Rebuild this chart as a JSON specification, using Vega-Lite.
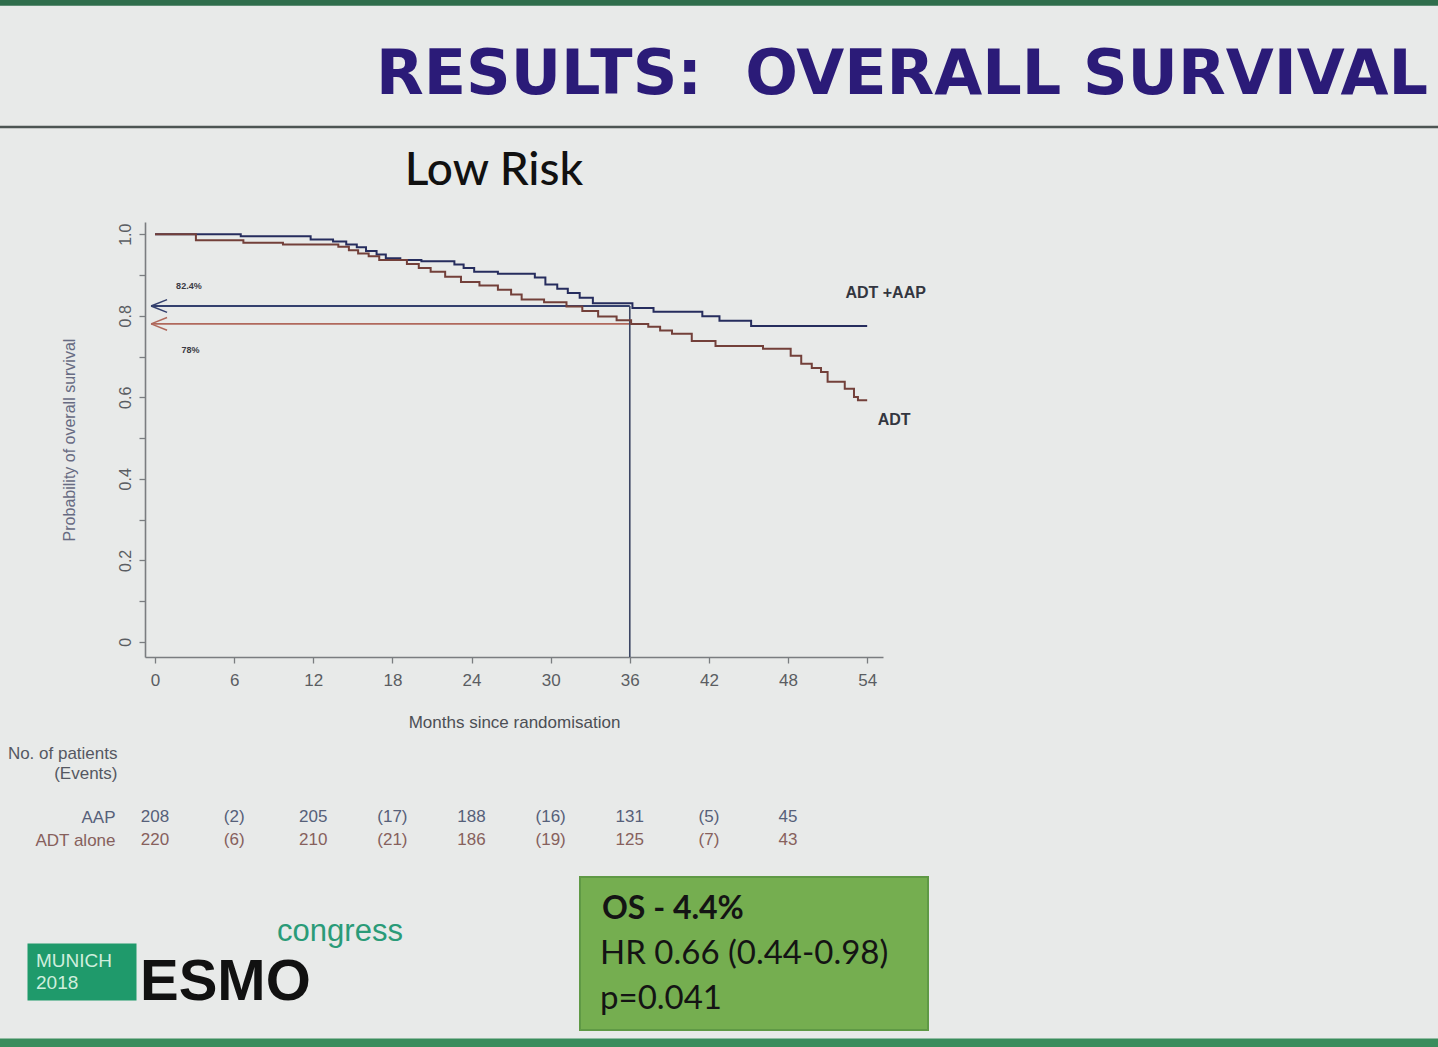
{
  "$schema": "https://vega.github.io/schema/vega-lite/v6.json",
  "width": 1438,
  "height": 1047,
  "autosize": "none",
  "padding": 0,
  "background": "#e8eae9",
  "config": {"view": {"stroke": null}, "font": "Liberation Sans"},
  "title": {
    "text": "RESULTS:\u00a0 OVERALL SURVIVAL",
    "anchor": "start",
    "frame": "group",
    "dx": 376,
    "dy": 158,
    "offset": 0,
    "baseline": "alphabetic",
    "font": "DejaVu Sans",
    "fontSize": 62,
    "fontWeight": "bold",
    "color": "#2b1b78"
  },
  "datasets": {
    "one": [{}],
    "curves": [
      {"group": "ADT +AAP", "month": 0, "surv": 1.0},
      {"group": "ADT +AAP", "month": 6.5, "surv": 0.995},
      {"group": "ADT +AAP", "month": 11.8, "surv": 0.987},
      {"group": "ADT +AAP", "month": 13.5, "surv": 0.982},
      {"group": "ADT +AAP", "month": 14.5, "surv": 0.975},
      {"group": "ADT +AAP", "month": 15.3, "surv": 0.968},
      {"group": "ADT +AAP", "month": 16.0, "surv": 0.959},
      {"group": "ADT +AAP", "month": 16.8, "surv": 0.95},
      {"group": "ADT +AAP", "month": 17.5, "surv": 0.941},
      {"group": "ADT +AAP", "month": 18.6, "surv": 0.937},
      {"group": "ADT +AAP", "month": 20.2, "surv": 0.934},
      {"group": "ADT +AAP", "month": 22.7, "surv": 0.926},
      {"group": "ADT +AAP", "month": 23.4, "surv": 0.917},
      {"group": "ADT +AAP", "month": 24.2, "surv": 0.908},
      {"group": "ADT +AAP", "month": 26.0, "surv": 0.903},
      {"group": "ADT +AAP", "month": 28.8, "surv": 0.894},
      {"group": "ADT +AAP", "month": 29.6, "surv": 0.877},
      {"group": "ADT +AAP", "month": 30.5, "surv": 0.866},
      {"group": "ADT +AAP", "month": 31.3, "surv": 0.856},
      {"group": "ADT +AAP", "month": 32.2, "surv": 0.844},
      {"group": "ADT +AAP", "month": 33.2, "surv": 0.831},
      {"group": "ADT +AAP", "month": 36.2, "surv": 0.819},
      {"group": "ADT +AAP", "month": 37.8, "surv": 0.81},
      {"group": "ADT +AAP", "month": 41.5, "surv": 0.799},
      {"group": "ADT +AAP", "month": 42.8, "surv": 0.788},
      {"group": "ADT +AAP", "month": 45.2, "surv": 0.775},
      {"group": "ADT +AAP", "month": 54.0, "surv": 0.775},
      {"group": "ADT", "month": 0, "surv": 1.0},
      {"group": "ADT", "month": 3.1, "surv": 0.985},
      {"group": "ADT", "month": 6.7, "surv": 0.979},
      {"group": "ADT", "month": 9.7, "surv": 0.975},
      {"group": "ADT", "month": 13.9, "surv": 0.969},
      {"group": "ADT", "month": 14.7, "surv": 0.961},
      {"group": "ADT", "month": 15.4, "surv": 0.953},
      {"group": "ADT", "month": 16.2, "surv": 0.946},
      {"group": "ADT", "month": 17.0, "surv": 0.937},
      {"group": "ADT", "month": 19.1, "surv": 0.927},
      {"group": "ADT", "month": 20.0, "surv": 0.917},
      {"group": "ADT", "month": 20.9, "surv": 0.908},
      {"group": "ADT", "month": 22.0, "surv": 0.896},
      {"group": "ADT", "month": 23.2, "surv": 0.883},
      {"group": "ADT", "month": 24.6, "surv": 0.874},
      {"group": "ADT", "month": 26.0, "surv": 0.864},
      {"group": "ADT", "month": 27.0, "surv": 0.852},
      {"group": "ADT", "month": 27.8, "surv": 0.84},
      {"group": "ADT", "month": 29.5, "surv": 0.833},
      {"group": "ADT", "month": 31.2, "surv": 0.823},
      {"group": "ADT", "month": 32.4, "surv": 0.812},
      {"group": "ADT", "month": 33.6, "surv": 0.798},
      {"group": "ADT", "month": 35.0, "surv": 0.789},
      {"group": "ADT", "month": 36.1, "surv": 0.78},
      {"group": "ADT", "month": 37.4, "surv": 0.773},
      {"group": "ADT", "month": 38.3, "surv": 0.764},
      {"group": "ADT", "month": 39.2, "surv": 0.756},
      {"group": "ADT", "month": 40.7, "surv": 0.738},
      {"group": "ADT", "month": 42.5, "surv": 0.726},
      {"group": "ADT", "month": 46.1, "surv": 0.719},
      {"group": "ADT", "month": 48.2, "surv": 0.702},
      {"group": "ADT", "month": 49.0, "surv": 0.682},
      {"group": "ADT", "month": 49.8, "surv": 0.672},
      {"group": "ADT", "month": 50.5, "surv": 0.662},
      {"group": "ADT", "month": 51.0, "surv": 0.638},
      {"group": "ADT", "month": 52.3, "surv": 0.621},
      {"group": "ADT", "month": 53.0, "surv": 0.601},
      {"group": "ADT", "month": 53.3, "surv": 0.593},
      {"group": "ADT", "month": 54.0, "surv": 0.593}
    ],
    "refs": [
      {"group": "ADT +AAP", "surv": 0.824, "from": -0.3, "to": 36},
      {"group": "ADT", "surv": 0.78, "from": -0.3, "to": 36}
    ],
    "table": [
      {"row": "AAP", "month": 0, "value": "208"},
      {"row": "AAP", "month": 6, "value": "(2)"},
      {"row": "AAP", "month": 12, "value": "205"},
      {"row": "AAP", "month": 18, "value": "(17)"},
      {"row": "AAP", "month": 24, "value": "188"},
      {"row": "AAP", "month": 30, "value": "(16)"},
      {"row": "AAP", "month": 36, "value": "131"},
      {"row": "AAP", "month": 42, "value": "(5)"},
      {"row": "AAP", "month": 48, "value": "45"},
      {"row": "ADT alone", "month": 0, "value": "220"},
      {"row": "ADT alone", "month": 6, "value": "(6)"},
      {"row": "ADT alone", "month": 12, "value": "210"},
      {"row": "ADT alone", "month": 18, "value": "(21)"},
      {"row": "ADT alone", "month": 24, "value": "186"},
      {"row": "ADT alone", "month": 30, "value": "(19)"},
      {"row": "ADT alone", "month": 36, "value": "125"},
      {"row": "ADT alone", "month": 42, "value": "(7)"},
      {"row": "ADT alone", "month": 48, "value": "43"}
    ],
    "stats": [
      {"line": "OS - 4.4%", "kind": "headline"},
      {"line": "HR 0.66 (0.44-0.98)", "kind": "detail"},
      {"line": "p=0.041", "kind": "detail"}
    ],
    "footer": [
      {"part": "munich", "text": "MUNICH\n2018"},
      {"part": "esmo", "text": "ESMO"},
      {"part": "congress", "text": "congress"}
    ]
  },
  "layer": [
    {
      "layer": [
        {
          "data": {"name": "one"},
          "mark": {"type": "rule", "color": "#4d5553", "strokeWidth": 2.5},
          "encoding": {"y": {"datum": 1.263, "type": "quantitative"}}
        },
        {
          "data": {"name": "one"},
          "mark": {"type": "rule", "color": "#2f6e4c", "strokeWidth": 8},
          "encoding": {"y": {"datum": 1.57, "type": "quantitative"}}
        },
        {
          "data": {"name": "one"},
          "mark": {"type": "rule", "color": "#3a8d5d", "strokeWidth": 10},
          "encoding": {"y": {"datum": -0.985, "type": "quantitative"}}
        },
        {
          "data": {"name": "refs"},
          "mark": {"type": "rule", "strokeWidth": 1.8},
          "encoding": {
            "x": {"field": "from", "type": "quantitative"},
            "x2": {"field": "to"},
            "y": {"field": "surv", "type": "quantitative"},
            "stroke": {"field": "group", "type": "nominal", "scale": {"domain": ["ADT +AAP", "ADT"], "range": ["#34406e", "#b0695c"]}, "legend": null}
          }
        },
        {
          "data": {"name": "refs"},
          "mark": {"type": "point", "shape": "M 0 0 L 2 -0.8 M 0 0 L 2 0.8", "filled": false, "size": 256, "strokeWidth": 1.5, "opacity": 1},
          "encoding": {
            "x": {"field": "from", "type": "quantitative"},
            "y": {"field": "surv", "type": "quantitative"},
            "stroke": {"field": "group", "type": "nominal", "legend": null}
          }
        },
        {
          "data": {"name": "one"},
          "mark": {"type": "rule", "color": "#3c4664", "strokeWidth": 1.6},
          "encoding": {
            "x": {"datum": 36, "type": "quantitative"},
            "y": {"datum": 0.824, "type": "quantitative"},
            "y2": {"datum": -0.037}
          }
        },
        {
          "data": {"name": "curves"},
          "mark": {"type": "line", "interpolate": "step-after", "strokeWidth": 2},
          "encoding": {
            "x": {
              "field": "month", "type": "quantitative",
              "scale": {"domain": [-0.76, 55.2], "range": [145, 883], "nice": false, "zero": false},
              "axis": {
                "orient": "bottom", "offset": -390,
                "values": [0, 6, 12, 18, 24, 30, 36, 42, 48, 54],
                "grid": false, "tickSize": 6, "tickColor": "#7a7d80", "tickWidth": 1.3,
                "domainColor": "#7a7d80", "domainWidth": 1.6,
                "labelFont": "Liberation Sans", "labelFontSize": 17, "labelColor": "#5a5d62", "labelPadding": 9, "labelFlush": false,
                "title": "Months since randomisation", "titleFont": "Liberation Sans", "titleFontSize": 17,
                "titleFontWeight": "normal", "titleColor": "#4c4f55", "titlePadding": 26
              }
            },
            "y": {
              "field": "surv", "type": "quantitative",
              "scale": {"domain": [-0.037, 1.03], "range": [657, 222], "nice": false, "zero": false},
              "axis": {
                "orient": "left", "offset": -145,
                "values": [0, 0.1, 0.2, 0.3, 0.4, 0.5, 0.6, 0.7, 0.8, 0.9, 1.0],
                "labelExpr": "round(datum.value * 10) % 2 == 0 ? (datum.value == 0 ? '0' : format(datum.value, '.1f')) : ''",
                "grid": false, "tickSize": 6, "tickColor": "#7a7d80", "tickWidth": 1.3,
                "domainColor": "#7a7d80", "domainWidth": 1.6,
                "labelAngle": 270, "labelAlign": "center", "labelBaseline": "bottom",
                "labelFont": "Liberation Sans", "labelFontSize": 16, "labelColor": "#5a5d62", "labelPadding": 6,
                "title": "Probability of overall survival", "titleFont": "Liberation Sans", "titleFontSize": 16,
                "titleFontWeight": "normal", "titleColor": "#676b82", "titlePadding": 40
              }
            },
            "color": {"field": "group", "type": "nominal", "scale": {"domain": ["ADT +AAP", "ADT"], "range": ["#262d5e", "#73403a"]}, "legend": null}
          }
        },
        {
          "data": {"name": "one"},
          "mark": {"type": "text", "text": "Low Risk", "font": "Lato", "fontSize": 46, "fontWeight": 500, "color": "#111111", "align": "center", "baseline": "alphabetic"},
          "encoding": {"x": {"datum": 25.7, "type": "quantitative"}, "y": {"datum": 1.121, "type": "quantitative"}}
        },
        {
          "data": {"name": "one"},
          "mark": {"type": "text", "text": "ADT +AAP", "fontSize": 16, "fontWeight": "bold", "color": "#333640", "align": "left", "baseline": "alphabetic"},
          "encoding": {"x": {"datum": 52.35, "type": "quantitative"}, "y": {"datum": 0.844, "type": "quantitative"}}
        },
        {
          "data": {"name": "one"},
          "mark": {"type": "text", "text": "ADT", "fontSize": 16, "fontWeight": "bold", "color": "#333640", "align": "left", "baseline": "alphabetic"},
          "encoding": {"x": {"datum": 54.8, "type": "quantitative"}, "y": {"datum": 0.532, "type": "quantitative"}}
        },
        {
          "data": {"name": "one"},
          "mark": {"type": "text", "text": "82.4%", "fontSize": 9, "fontWeight": "bold", "color": "#3a3a44", "align": "left", "baseline": "alphabetic"},
          "encoding": {"x": {"datum": 1.6, "type": "quantitative"}, "y": {"datum": 0.866, "type": "quantitative"}}
        },
        {
          "data": {"name": "one"},
          "mark": {"type": "text", "text": "78%", "fontSize": 9, "fontWeight": "bold", "color": "#3a3a44", "align": "left", "baseline": "alphabetic"},
          "encoding": {"x": {"datum": 2.0, "type": "quantitative"}, "y": {"datum": 0.709, "type": "quantitative"}}
        }
      ]
    },
    {
      "data": {"name": "table"},
      "mark": {"type": "text", "fontSize": 17, "font": "Liberation Sans", "align": "center", "baseline": "middle"},
      "encoding": {
        "x": {"field": "month", "type": "quantitative", "scale": {"domain": [-0.76, 55.2], "range": [145, 883], "nice": false, "zero": false}, "axis": null},
        "y": {
          "field": "row", "type": "nominal",
          "scale": {"type": "point", "domain": ["AAP", "ADT alone"], "range": [817, 840], "padding": 0},
          "axis": {
            "orient": "left", "offset": -115, "domain": false, "ticks": false, "labelPadding": 0,
            "labelFont": "Liberation Sans", "labelFontSize": 17,
            "labelColor": {"condition": {"test": "datum.value === 'AAP'", "value": "#566079"}, "value": "#86605c"},
            "title": ["No. of patients", "(Events)"], "titleAngle": 0, "titleAlign": "right", "titleBaseline": "alphabetic",
            "titleX": 2, "titleY": 758, "titleFont": "Liberation Sans", "titleFontSize": 17, "titleFontWeight": "normal",
            "titleColor": "#555862", "titleLineHeight": 20
          }
        },
        "text": {"field": "value", "type": "nominal"},
        "color": {"field": "row", "type": "nominal", "scale": {"domain": ["AAP", "ADT alone"], "range": ["#566079", "#86605c"]}, "legend": null}
      }
    },
    {
      "data": {"name": "stats"},
      "layer": [
        {
          "mark": {"type": "rect", "color": "#75ae50", "stroke": "#5f9945", "strokeWidth": 2},
          "encoding": {
            "x": {"datum": "stats", "type": "nominal", "scale": {"type": "band", "domain": ["stats"], "range": [580, 928], "paddingInner": 0, "paddingOuter": 0}, "axis": null},
            "y": {"datum": "stats", "type": "nominal", "scale": {"type": "band", "domain": ["stats"], "range": [877, 1030], "paddingInner": 0, "paddingOuter": 0}, "axis": null}
          }
        },
        {
          "transform": [{"filter": "datum.kind === 'headline'"}],
          "mark": {"type": "text", "font": "Lato", "fontSize": 32, "fontWeight": "bold", "color": "#141414", "align": "left", "baseline": "middle", "dx": 22},
          "encoding": {
            "x": {"datum": "stats", "type": "nominal", "bandPosition": 0},
            "y": {"field": "line", "type": "nominal", "scale": {"type": "point", "domain": ["OS - 4.4%", "HR 0.66 (0.44-0.98)", "p=0.041"], "range": [909, 999], "padding": 0}, "axis": null},
            "text": {"field": "line", "type": "nominal"}
          }
        },
        {
          "transform": [{"filter": "datum.kind === 'detail'"}],
          "mark": {"type": "text", "font": "Lato", "fontSize": 33, "color": "#141414", "align": "left", "baseline": "middle", "dx": 20},
          "encoding": {
            "x": {"datum": "stats", "type": "nominal", "bandPosition": 0},
            "y": {"field": "line", "type": "nominal", "scale": {"type": "point", "domain": ["OS - 4.4%", "HR 0.66 (0.44-0.98)", "p=0.041"], "range": [909, 999], "padding": 0}, "axis": null},
            "text": {"field": "line", "type": "nominal"}
          }
        }
      ],
      "resolve": {"scale": {"y": "independent"}}
    },
    {
      "data": {"name": "footer"},
      "layer": [
        {
          "transform": [{"filter": "datum.part === 'munich'"}],
          "mark": {"type": "rect", "width": 109, "height": 57, "color": "#1f9a6b"},
          "encoding": {
            "x": {"field": "part", "type": "nominal", "scale": {"type": "point", "domain": ["munich", "esmo", "congress"], "range": [82, 340], "padding": 0}, "axis": null},
            "y": {"datum": "row", "type": "nominal", "scale": {"type": "point", "domain": ["row"], "range": [972, 972], "padding": 0}, "axis": null}
          }
        },
        {
          "transform": [{"filter": "datum.part === 'munich'"}],
          "mark": {"type": "text", "font": "Liberation Sans", "fontSize": 19, "color": "#cfeedd", "align": "left", "baseline": "middle", "lineBreak": "\n", "lineHeight": 22, "dx": -46, "dy": -11},
          "encoding": {
            "x": {"field": "part", "type": "nominal"},
            "y": {"datum": "row", "type": "nominal"},
            "text": {"field": "text", "type": "nominal"}
          }
        },
        {
          "transform": [{"filter": "datum.part === 'esmo'"}],
          "mark": {"type": "text", "font": "Liberation Sans", "fontSize": 58, "fontWeight": "bold", "color": "#111111", "align": "left", "baseline": "alphabetic", "dx": -71, "dy": 28},
          "encoding": {
            "x": {"field": "part", "type": "nominal"},
            "y": {"datum": "row", "type": "nominal"},
            "text": {"field": "text", "type": "nominal"}
          }
        },
        {
          "transform": [{"filter": "datum.part === 'congress'"}],
          "mark": {"type": "text", "font": "Liberation Sans", "fontSize": 31, "color": "#2a9b78", "align": "center", "baseline": "alphabetic", "dy": -31},
          "encoding": {
            "x": {"field": "part", "type": "nominal"},
            "y": {"datum": "row", "type": "nominal"},
            "text": {"field": "text", "type": "nominal"}
          }
        }
      ]
    }
  ],
  "resolve": {"scale": {"x": "independent", "y": "independent", "color": "independent", "stroke": "independent"}}
}
